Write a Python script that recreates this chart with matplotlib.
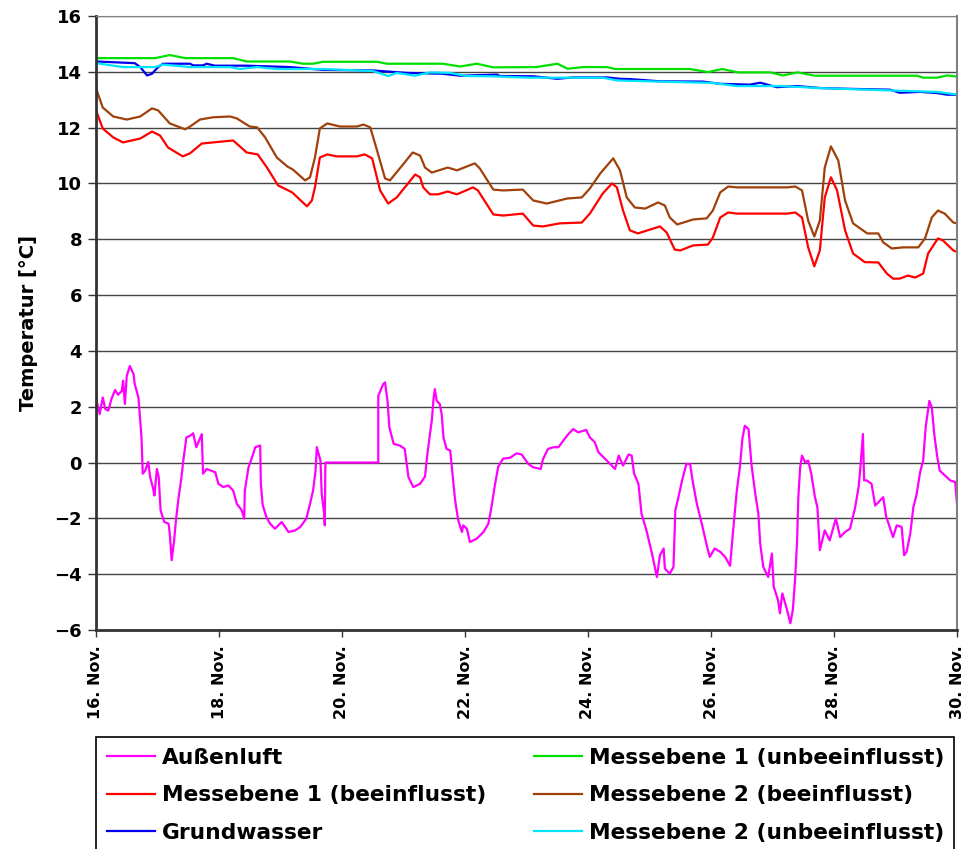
import matplotlib
matplotlib.use("Agg")
import matplotlib.pyplot as plt
from matplotlib.patches import Rectangle

# time axis: days after 16. Nov. 00:00
tick_days = [0, 2, 4, 6, 8, 10, 12, 14]
tick_labels = ["16. Nov.", "18. Nov.", "20. Nov.", "22. Nov.",
               "24. Nov.", "26. Nov.", "28. Nov.", "30. Nov."]

# Außenluft
luft_t = [0.0, 0.01, 0.06, 0.11, 0.15, 0.20, 0.25, 0.31, 0.36, 0.42, 0.44, 0.47, 0.50, 0.55,
          0.61, 0.63, 0.69, 0.72, 0.74, 0.76, 0.80, 0.85, 0.88, 0.93, 0.95, 0.99, 1.02, 1.05,
          1.11, 1.18, 1.20, 1.23, 1.27, 1.30, 1.34, 1.39, 1.42, 1.47, 1.53, 1.58, 1.63, 1.72,
          1.74, 1.80, 1.94, 1.99, 2.07, 2.15, 2.23, 2.29, 2.37, 2.41, 2.42, 2.48, 2.53, 2.59,
          2.67, 2.68, 2.71, 2.77, 2.83, 2.91, 3.02, 3.13, 3.24, 3.32, 3.42, 3.48, 3.53, 3.57,
          3.59, 3.65, 3.67, 3.71, 3.72, 3.73, 4.59, 4.59, 4.67, 4.70, 4.74, 4.77, 4.84, 4.94,
          5.02, 5.08, 5.16, 5.27, 5.35, 5.38, 5.42, 5.46, 5.49, 5.51, 5.54, 5.59, 5.62, 5.65,
          5.70, 5.76, 5.78, 5.84, 5.89, 5.95, 5.97, 6.03, 6.08, 6.19, 6.30, 6.38, 6.43, 6.49,
          6.54, 6.62, 6.73, 6.84, 6.92, 7.03, 7.11, 7.23, 7.27, 7.35, 7.44, 7.52, 7.60, 7.68,
          7.76, 7.84, 7.97, 8.03, 8.11, 8.17, 8.28, 8.36, 8.44, 8.50, 8.57, 8.66, 8.71, 8.75,
          8.82, 8.87, 8.95, 9.04, 9.12, 9.17, 9.23, 9.25, 9.33, 9.39, 9.42, 9.47, 9.53, 9.60,
          9.66, 9.70, 9.77, 9.85, 9.93, 9.98, 10.06, 10.15, 10.23, 10.31, 10.36, 10.42, 10.47,
          10.51, 10.55, 10.61, 10.66, 10.72, 10.77, 10.80, 10.85, 10.93, 10.99, 11.02, 11.09,
          11.12, 11.16, 11.23, 11.29, 11.33, 11.37, 11.40, 11.42, 11.45, 11.48, 11.53, 11.58,
          11.63, 11.69, 11.73, 11.77, 11.85, 11.93, 12.03, 12.10, 12.18, 12.26, 12.34, 12.40,
          12.43, 12.47, 12.49, 12.53, 12.61, 12.67, 12.80, 12.85, 12.96, 13.02, 13.10, 13.14,
          13.18, 13.24, 13.29, 13.34, 13.40, 13.45, 13.49, 13.55, 13.59, 13.63, 13.68, 13.72,
          13.83, 13.89, 13.97, 14.0]
luft_v = [2.75, 2.21, 1.74, 2.33, 1.92, 1.86, 2.27, 2.60, 2.43, 2.57, 2.93, 2.10, 3.10, 3.46,
          3.17, 2.81, 2.33, 1.50, 0.90, -0.40, -0.29, 0.02, -0.52, -0.94, -1.18, -0.23, -0.52,
          -1.71, -2.13, -2.19, -2.55, -3.50, -2.80, -2.07, -1.30, -0.52, 0.08, 0.90, 0.96, 1.05,
          0.55, 1.02, -0.40, -0.23, -0.35, -0.76, -0.88, -0.82, -1.00, -1.48, -1.71, -2.01,
          -1.00, -0.17, 0.14, 0.55, 0.61, -0.76, -1.52, -1.95, -2.19, -2.37, -2.13, -2.49, -2.43,
          -2.31, -2.01, -1.48, -1.00, -0.29, 0.55, 0.07, -1.12, -1.83, -2.25, 0.0, 0.0, 2.39,
          2.81, 2.87, 2.21, 1.26, 0.67, 0.61, 0.49, -0.52, -0.88, -0.76, -0.50, 0.14, 0.85, 1.50,
          2.33, 2.63, 2.21, 2.10, 1.74, 0.90, 0.49, 0.43, -0.04, -1.36, -2.07, -2.49, -2.25,
          -2.37, -2.85, -2.73, -2.49, -2.19, -1.60, -0.76, -0.15, 0.14, 0.17, 0.33, 0.29, -0.05,
          -0.17, -0.23, 0.13, 0.49, 0.55, 0.55, 0.79, 1.02, 1.20, 1.08, 1.17, 0.90, 0.73, 0.37,
          0.13, -0.05, -0.23, 0.25, -0.11, 0.29, 0.25, -0.40, -0.76, -1.83, -2.43, -3.26, -4.10,
          -3.32, -3.08, -3.80, -3.98, -3.74, -1.71, -1.24, -0.64, -0.05, -0.05, -0.64, -1.48,
          -2.19, -2.96, -3.38, -3.08, -3.20, -3.38, -3.70, -2.43, -1.00, -0.17, 0.85, 1.32, 1.20,
          -0.11, -1.12, -1.83, -2.90, -3.74, -4.10, -3.26, -4.45, -4.93, -5.40, -4.69, -5.23,
          -5.76, -5.29, -4.10, -2.79, -1.24, -0.17, 0.25, 0.01, 0.07, -0.40, -1.24, -1.60, -3.14,
          -2.43, -2.79, -2.01, -2.67, -2.49, -2.37, -1.65, -0.88, -0.17, 1.02, -0.64, -0.64,
          -0.76, -1.54, -1.24, -1.95, -2.67, -2.25, -2.31, -3.32, -3.20, -2.55, -1.60, -1.18,
          -0.35, 0.07, 1.26, 2.21, 1.98, 1.02, 0.19, -0.29, -0.52, -0.64, -0.70, -1.48]

# Messebene 1 (beeinflusst)
m1b_t = [0.0, 0.11, 0.28, 0.44, 0.72, 0.91, 1.04, 1.17, 1.41, 1.53, 1.72, 1.90, 2.23, 2.45,
         2.63, 2.78, 2.96, 3.19, 3.43, 3.51, 3.56, 3.64, 3.76, 3.92, 4.24, 4.37, 4.49, 4.62,
         4.75, 4.89, 5.19, 5.27, 5.32, 5.43, 5.56, 5.72, 5.87, 6.13, 6.21, 6.46, 6.62, 6.94,
         7.11, 7.27, 7.54, 7.90, 8.03, 8.24, 8.39, 8.47, 8.57, 8.68, 8.81, 9.17, 9.28, 9.41,
         9.50, 9.71, 9.95, 10.03, 10.15, 10.28, 10.42, 11.24, 11.37, 11.48, 11.58, 11.68, 11.77,
         11.85, 11.95, 12.05, 12.18, 12.31, 12.50, 12.72, 12.86, 12.96, 13.07, 13.20, 13.32,
         13.45, 13.53, 13.69, 13.77, 13.94, 14.0]
m1b_v = [12.62, 11.97, 11.65, 11.47, 11.61, 11.86, 11.72, 11.29, 10.97, 11.08, 11.43, 11.47,
         11.54, 11.11, 11.04, 10.57, 9.93, 9.68, 9.18, 9.39, 9.86, 10.93, 11.04, 10.97, 10.97,
         11.04, 10.90, 9.75, 9.28, 9.50, 10.32, 10.22, 9.86, 9.61, 9.61, 9.71, 9.61, 9.86, 9.75,
         8.89, 8.85, 8.92, 8.49, 8.46, 8.57, 8.60, 8.92, 9.64, 10.0, 9.86, 9.03, 8.32, 8.21,
         8.46, 8.24, 7.63, 7.60, 7.78, 7.81, 8.06, 8.78, 8.96, 8.92, 8.92, 8.96, 8.78, 7.71,
         7.03, 7.60, 9.50, 10.22, 9.75, 8.32, 7.49, 7.18, 7.17, 6.77, 6.59, 6.59, 6.70, 6.63,
         6.77, 7.49, 8.03, 7.96, 7.60, 7.55]

# Messebene 2 (beeinflusst)
m2b_t = [0.0, 0.11, 0.28, 0.50, 0.72, 0.91, 1.01, 1.20, 1.45, 1.53, 1.69, 1.90, 2.18, 2.29,
         2.50, 2.62, 2.75, 2.94, 3.11, 3.20, 3.40, 3.48, 3.56, 3.64, 3.76, 3.97, 4.24, 4.35,
         4.46, 4.57, 4.70, 4.78, 4.94, 5.15, 5.27, 5.35, 5.46, 5.72, 5.87, 6.16, 6.24, 6.46,
         6.62, 6.94, 7.11, 7.33, 7.66, 7.90, 8.03, 8.20, 8.41, 8.52, 8.63, 8.76, 8.93, 9.14,
         9.25, 9.33, 9.45, 9.71, 9.93, 10.03, 10.15, 10.28, 10.42, 11.24, 11.37, 11.48, 11.58,
         11.68, 11.77, 11.85, 11.95, 12.07, 12.18, 12.31, 12.54, 12.72, 12.80, 12.94, 13.12,
         13.37, 13.48, 13.59, 13.69, 13.80, 13.94, 14.0]
m2b_v = [13.41, 12.72, 12.40, 12.29, 12.40, 12.69, 12.62, 12.15, 11.94, 12.04, 12.29, 12.37,
         12.40, 12.33, 12.04, 12.01, 11.65, 10.93, 10.61, 10.50, 10.11, 10.22, 10.93, 11.97,
         12.15, 12.04, 12.04, 12.11, 12.01, 11.18, 10.18, 10.11, 10.54, 11.11, 11.00, 10.57,
         10.39, 10.57, 10.47, 10.72, 10.54, 9.78, 9.75, 9.78, 9.39, 9.28, 9.46, 9.50, 9.82,
         10.36, 10.90, 10.47, 9.50, 9.14, 9.10, 9.32, 9.21, 8.78, 8.53, 8.71, 8.75, 9.03, 9.68,
         9.89, 9.86, 9.86, 9.89, 9.75, 8.67, 8.10, 8.67, 10.57, 11.33, 10.82, 9.39, 8.57, 8.21,
         8.21, 7.89, 7.67, 7.71, 7.71, 8.03, 8.78, 9.03, 8.92, 8.60, 8.57]

# Messebene 1 (unbeeinflusst)
m1u_t = [0.0, 0.96, 1.20, 1.45, 2.23, 2.45, 3.15, 3.37, 3.53, 3.69, 4.57, 4.73, 5.64, 5.92,
         6.19, 6.46, 7.16, 7.50, 7.67, 7.92, 8.31, 8.44, 9.66, 9.95, 10.18, 10.44, 10.96,
         11.17, 11.41, 11.69, 13.35, 13.45, 13.67, 13.84, 14.0]
m1u_v = [14.49, 14.49, 14.60, 14.49, 14.49, 14.37, 14.37, 14.29, 14.29, 14.36, 14.36, 14.29,
         14.29, 14.19, 14.29, 14.16, 14.17, 14.29, 14.11, 14.17, 14.17, 14.10, 14.10, 13.99,
         14.10, 13.98, 13.98, 13.87, 13.98, 13.86, 13.86, 13.79, 13.79, 13.87, 13.83]

# Grundwasser
gw_t = [0.0, 0.63, 0.72, 0.83, 0.91, 1.01, 1.09, 1.53, 1.58, 1.74, 1.80, 1.93, 2.45, 3.15,
        3.69, 4.50, 5.06, 5.64, 5.92, 6.52, 6.57, 7.11, 7.50, 7.76, 8.31, 8.52, 8.68, 9.17,
        9.87, 10.15, 10.63, 10.80, 11.07, 11.40, 11.77, 12.26, 12.91, 13.07, 13.40, 13.67,
        13.84, 14.0]
gw_v = [14.37, 14.31, 14.17, 13.87, 13.93, 14.17, 14.29, 14.29, 14.23, 14.23, 14.29, 14.22,
        14.22, 14.17, 14.07, 14.05, 13.96, 13.93, 13.86, 13.90, 13.85, 13.84, 13.75, 13.80,
        13.80, 13.75, 13.74, 13.66, 13.65, 13.57, 13.54, 13.61, 13.45, 13.49, 13.42, 13.39,
        13.36, 13.25, 13.28, 13.24, 13.18, 13.18]

# Messebene 2 (unbeeinflusst)
m2u_t = [0.0, 0.44, 0.96, 1.09, 1.53, 2.18, 2.34, 2.62, 2.94, 3.69, 4.50, 4.75, 4.89, 5.19,
         5.43, 5.76, 6.03, 6.41, 7.06, 8.24, 8.47, 10.03, 10.42, 11.12, 11.50, 11.72, 12.96,
         13.67, 14.0]
m2u_v = [14.31, 14.17, 14.17, 14.26, 14.17, 14.17, 14.10, 14.17, 14.10, 14.10, 14.03, 13.85,
         13.96, 13.86, 13.98, 13.96, 13.85, 13.84, 13.79, 13.79, 13.69, 13.60, 13.49, 13.49,
         13.45, 13.42, 13.33, 13.28, 13.19]

series = [
    ("Außenluft", luft_t, luft_v, "#ff00ff"),
    ("Messebene 1 (beeinflusst)", m1b_t, m1b_v, "#ff0000"),
    ("Grundwasser", gw_t, gw_v, "#0000ee"),
    ("Messebene 1 (unbeeinflusst)", m1u_t, m1u_v, "#00e000"),
    ("Messebene 2 (beeinflusst)", m2b_t, m2b_v, "#a0400a"),
    ("Messebene 2 (unbeeinflusst)", m2u_t, m2u_v, "#00e5ff"),
]

plt.rcParams['font.family'] = ['DejaVu Sans']
plt.rcParams['font.weight'] = 'bold'

fig = plt.figure(figsize=(9.61, 8.49), dpi=100)
ax = fig.add_axes([96 / 961, 1 - 630 / 849, (957 - 96) / 961, (630 - 16) / 849])

handles = []
for label, t, v, col in series:
    ln, = ax.plot(t, v, color=col, lw=1.6, label=label)
    handles.append(ln)

ax.set_xlim(0, 14)
ax.set_ylim(-6, 16)
ax.set_yticks(range(-6, 17, 2))
ax.set_xticks(tick_days)
ax.set_xticklabels(tick_labels, rotation=90, fontsize=11.5, fontweight='bold')
for lab in ax.get_yticklabels():
    lab.set_fontsize(13)
    lab.set_fontweight('bold')
ax.tick_params(axis='y', direction='out', length=6, width=1, color='#333333', pad=4)
ax.tick_params(axis='x', direction='out', length=5, width=1, color='#333333', pad=6)
ax.yaxis.grid(True, color='#444444', lw=1)
ax.set_axisbelow(True)
ax.set_ylabel("Temperatur [°C]", fontsize=14, fontweight='bold', labelpad=12)

ax.spines['left'].set_color('#333333')
ax.spines['left'].set_linewidth(2)
ax.spines['bottom'].set_color('#333333')
ax.spines['bottom'].set_linewidth(2)
ax.spines['top'].set_color('#808080')
ax.spines['right'].set_color('#808080')
ax.spines['right'].set_linewidth(1.5)

# legend box, cut off at the bottom of the image
fig.patches.append(Rectangle((96 / 961, -0.05), (954 - 96) / 961, 1 - 737 / 849 + 0.05,
                             transform=fig.transFigure, fill=False, edgecolor='black', lw=1.2))

leg_kw = dict(loc='upper left', frameon=False, fontsize=15.7, handlelength=2.2,
              handletextpad=0.32, labelspacing=0.8, borderpad=0, borderaxespad=0)
leg1 = fig.legend(handles[:3], [s[0] for s in series[:3]],
                  bbox_to_anchor=(107 / 961, 1 - 748 / 849), **leg_kw)
leg2 = fig.legend(handles[3:], [s[0] for s in series[3:]],
                  bbox_to_anchor=(534 / 961, 1 - 748 / 849), **leg_kw)
for leg in (leg1, leg2):
    for txt in leg.get_texts():
        txt.set_fontweight('bold')

fig.savefig("out.png", dpi=100)
